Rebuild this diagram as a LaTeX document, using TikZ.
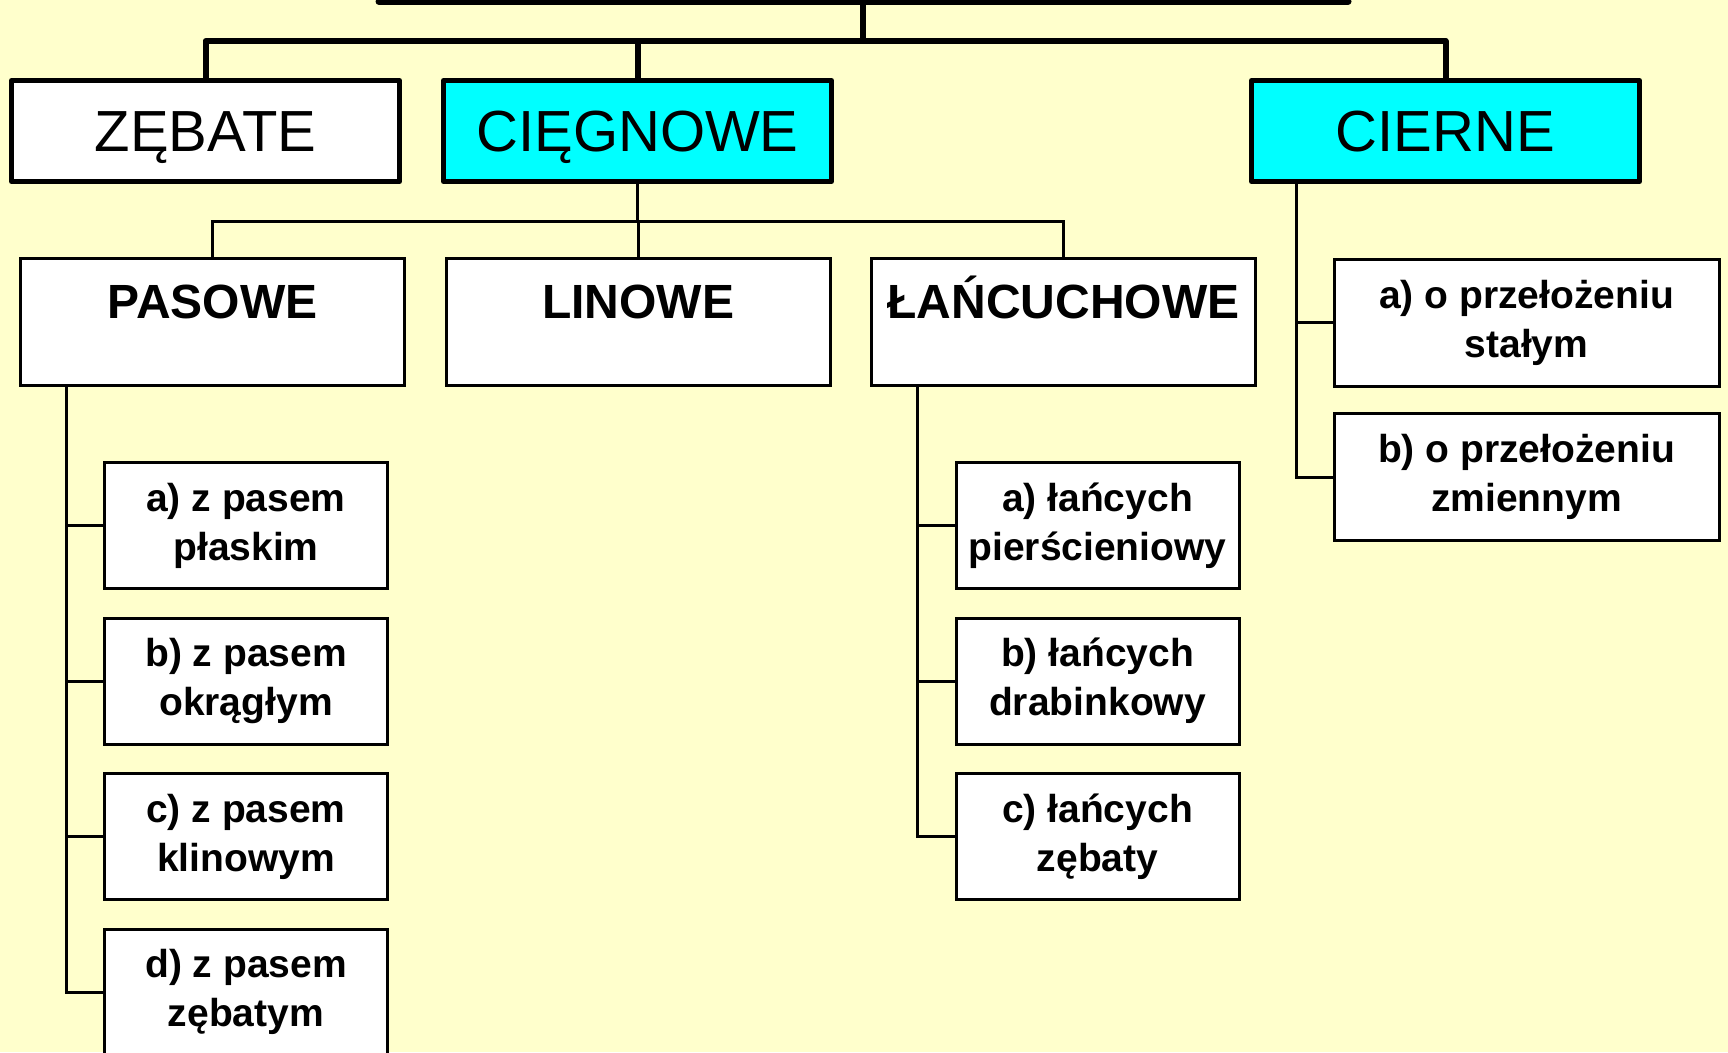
\documentclass[tikz,border=0pt]{standalone}
\usepackage{fontspec}
\setmainfont{Liberation Sans}
\usetikzlibrary{calc}
\definecolor{paper}{HTML}{FFFFCC}
\definecolor{hilite}{HTML}{00FFFF}

\begin{document}
\begin{tikzpicture}[x=1pt,y=-1pt,
  topbox/.style={draw, line width=5pt, line join=round, fill=white,
    minimum width=388pt, minimum height=101pt, inner sep=0pt,
    font=\fontsize{58}{70}\selectfont, text height=41.5pt, text depth=0pt},
  midbox/.style={draw, line width=3pt, fill=white,
    minimum width=384pt, minimum height=127pt, inner sep=0pt},
  titletext/.style={font=\fontsize{48}{58}\selectfont\bfseries,
    anchor=base, inner sep=0pt},
  subbox/.style={draw, line width=3pt, fill=white,
    minimum width=283pt, minimum height=126pt, inner sep=0pt,
    align=center, font=\fontsize{39}{49}\selectfont\bfseries},
  widebox/.style={subbox, minimum width=385pt, minimum height=127pt},
  heavy/.style={line width=6pt, line join=round},
  light/.style={line width=3pt, line join=miter}]

  % page background
  \fill[paper] (0,0) rectangle (1728,1052);
  \useasboundingbox (0,0) rectangle (1728,1052);
  \clip (0,0) rectangle (1728,1052);

  % top level
  \coordinate (rootL) at (379,1.5);
  \coordinate (rootR) at (1348,1.5);
  \coordinate (root) at (863,1.5);
  \coordinate (busA) at (863,41);
  \node[topbox] (zeb) at (205.5,131) {ZĘBATE};
  \node[topbox, fill=hilite] (cieg) at (637.5,131) {CIĘGNOWE};
  \node[topbox, fill=hilite] (cier) at (1445.5,131) {CIERNE};

  % second level under CIĘGNOWE
  \coordinate (busB) at (637,221);
  \node[midbox] (pas) at (212.5,322) {};
  \node[midbox] (lin) at (638,322) {};
  \node[midbox] (lan) at (1063.5,322) {};
  \node[titletext] (pastitle) at ($(pas.north)+(0,61)$) {PASOWE};
  \node[titletext] (lintitle) at ($(lin.north)+(0,61)$) {LINOWE};
  \node[titletext] (lantitle) at ($(lan.north)+(0,61)$) {ŁAŃCUCHOWE};

  % belt variants
  \coordinate (pasSpine) at (66,0);
  \node[subbox] (pa) at (246,525.5) {a) z pasem\\płaskim};
  \node[subbox] (pb) at (246,681) {b) z pasem\\okrągłym};
  \node[subbox] (pc) at (246,836.5) {c) z pasem\\klinowym};
  \node[subbox] (pd) at (246,992) {d) z pasem\\zębatym};

  % chain variants
  \coordinate (lanSpine) at (917,0);
  \node[subbox] (la) at (1097.5,525.5) {a) łańcych\\pierścieniowy};
  \node[subbox] (lb) at (1097.5,681) {b) łańcych\\drabinkowy};
  \node[subbox] (lc) at (1097.5,836.5) {c) łańcych\\zębaty};

  % friction variants
  \coordinate (cierSpine) at (1296,0);
  \node[widebox] (ca) at (1526.5,322.5) {a) o przełożeniu\\stałym};
  \node[widebox] (cb) at (1526.5,477) {b) o przełożeniu\\zmiennym};

  % heavy connectors
  \draw[line width=7pt, line cap=round] (rootL) -- (rootR);
  \draw[heavy] (root) -- (busA);
  \draw[heavy] (zeb.north) |- (busA -| cier.north) -- (cier.north);
  \draw[heavy] (cieg.north) -- (cieg.north |- busA);

  % CIĘGNOWE branches
  \draw[light] (cieg.south) -- (cieg.south |- busB);
  \draw[light] (pas.north) |- (busB -| lan.north) -- (lan.north);
  \draw[light] (lin.north) -- (lin.north |- busB);

  % PASOWE branches
  \draw[light] (pasSpine |- pas.south) |- (pd.west);
  \foreach \n in {pa,pb,pc}
    \draw[light] (pasSpine |- \n.west) -- (\n.west);

  % ŁAŃCUCHOWE branches
  \draw[light] (lanSpine |- lan.south) |- (lc.west);
  \foreach \n in {la,lb}
    \draw[light] (lanSpine |- \n.west) -- (\n.west);

  % CIERNE branches
  \draw[light] (cierSpine |- cier.south) |- (cb.west);
  \draw[light] (cierSpine |- ca.west) -- (ca.west);
\end{tikzpicture}
\end{document}
